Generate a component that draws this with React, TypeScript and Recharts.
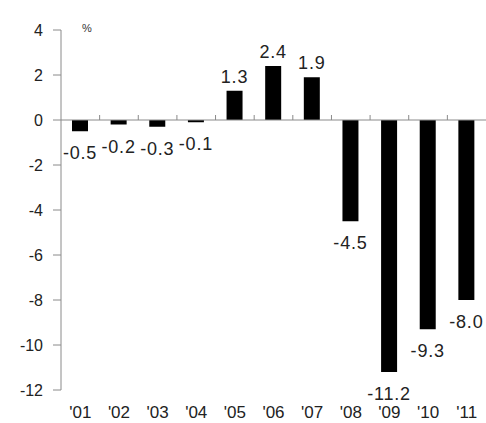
import { BarChart, Bar, XAxis, YAxis, ReferenceLine, LabelList } from "recharts"

const years = ["'01", "'02", "'03", "'04", "'05", "'06", "'07", "'08", "'09", "'10", "'11"]
const changes = [-0.5, -0.2, -0.3, -0.1, 1.3, 2.4, 1.9, -4.5, -11.2, -9.3, -8.0]
const yTicks = [4, 2, 0, -2, -4, -6, -8, -10, -12]

const data = years.map((year, i) => ({ year, value: changes[i] }))

const FONT = "'Liberation Sans', Arial, sans-serif"

// zero line with small tick marks between the categories
function ZeroLine(props: any) {
  const { x1, x2, y1 } = props
  const step = (x2 - x1) / years.length
  const ticks = []
  for (let i = 1; i < years.length; i++) {
    const x = x1 + i * step
    ticks.push(<line key={i} x1={x} x2={x} y1={y1} y2={y1 - 5} stroke="#8a8a8a" strokeWidth={1} />)
  }
  return (
    <g>
      <line x1={x1} x2={x2} y1={y1} y2={y1} stroke="#8a8a8a" strokeWidth={1} />
      {ticks}
    </g>
  )
}

function ValueLabel(props: any) {
  const { x, y, width, height, value } = props
  const top = Math.min(y, y + height)
  const bottom = Math.max(y, y + height)
  const cx = x + width / 2
  const ty = value < 0 ? bottom + 28 : top - 8
  return (
    <text x={cx} y={ty} textAnchor="middle" fontSize={18} letterSpacing={0.8} fill="#222" fontFamily={FONT}>
      {Number(value).toFixed(1)}
    </text>
  )
}

export default function App() {
  return (
    <div style={{ position: "absolute", left: 0, top: 0, width: 486, height: 423, background: "#fff" }}>
      <BarChart
        width={486}
        height={423}
        data={data}
        margin={{ top: 30, right: 0, bottom: 0, left: 0 }}
        barCategoryGap={0}
      >
        <YAxis
          domain={[-12, 4]}
          ticks={yTicks}
          interval={0}
          width={61}
          axisLine={{ stroke: "#8a8a8a" }}
          tickLine={{ stroke: "#8a8a8a" }}
          tickSize={8}
          tickMargin={10}
          tick={{ fontSize: 16, fill: "#222", fontFamily: FONT }}
        />
        <XAxis
          dataKey="year"
          axisLine={false}
          tickLine={false}
          tickSize={0}
          tickMargin={16}
          height={33}
          interval={0}
          tick={{ fontSize: 17, fill: "#222", fontFamily: FONT }}
        />
        <ReferenceLine y={0} shape={ZeroLine} />
        <Bar dataKey="value" fill="#000" barSize={16} isAnimationActive={false}>
          <LabelList dataKey="value" content={ValueLabel} />
        </Bar>
      </BarChart>
      <div
        style={{
          position: "absolute",
          left: 82,
          top: 22,
          fontSize: 11,
          color: "#333",
          fontFamily: FONT,
        }}
      >
        %
      </div>
    </div>
  )
}
